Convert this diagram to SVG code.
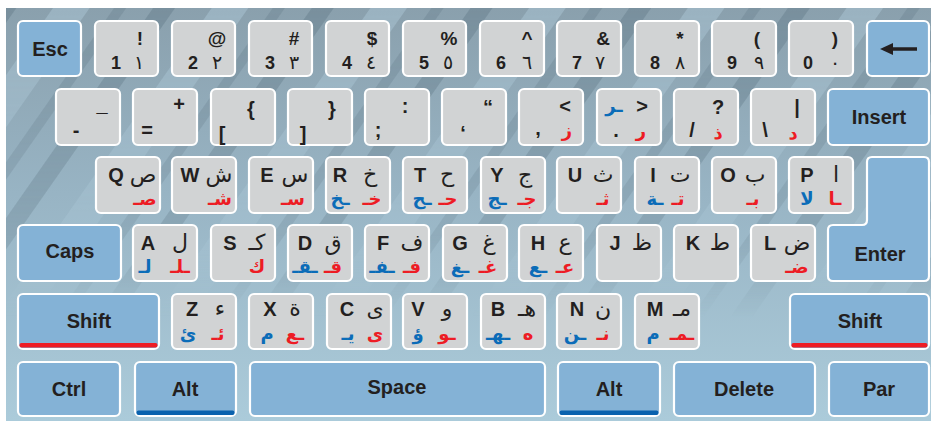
<svg xmlns="http://www.w3.org/2000/svg" width="931" height="421" viewBox="0 0 931 421">
<defs>
<linearGradient id="bg" x1="0" y1="0" x2="0" y2="1">
<stop offset="0" stop-color="#8aa0ad"/>
<stop offset="0.45" stop-color="#98b4c4"/>
<stop offset="1" stop-color="#abcbda"/>
</linearGradient>
<pattern id="st" width="130" height="130" patternUnits="userSpaceOnUse" patternTransform="rotate(35)">
<rect x="0" y="0" width="18" height="130" fill="#687f8d" opacity="0.5"/>
<rect x="48" y="0" width="30" height="130" fill="#b4d0de" opacity="0.4"/>
<rect x="98" y="0" width="10" height="130" fill="#687f8d" opacity="0.35"/>
</pattern>
<linearGradient id="fade" x1="0" y1="0" x2="0" y2="1">
<stop offset="0" stop-color="#fff" stop-opacity="1"/>
<stop offset="0.55" stop-color="#fff" stop-opacity="0.6"/>
<stop offset="0.75" stop-color="#fff" stop-opacity="0"/>
</linearGradient>
<mask id="m"><rect x="6" y="8" width="925" height="413" fill="url(#fade)"/></mask>
<style>
.k{fill:#d1d3d4;stroke:#fff;stroke-width:2.2}
.b{fill:#84b2d6;stroke:#fff;stroke-width:2.2}
text{text-anchor:middle}
.l{font-family:"Liberation Sans",Arial,sans-serif;font-weight:bold;font-size:20px;fill:#231f20}
.n{font-family:"Liberation Sans",Arial,sans-serif;font-weight:bold;font-size:18px;fill:#231f20}
.s{font-family:"Liberation Sans",Arial,sans-serif;font-weight:bold;font-size:19px;fill:#231f20}
.a{font-family:"DejaVu Sans",sans-serif;font-size:22px;fill:#231f20}
.c{font-family:"DejaVu Sans",sans-serif;font-size:18px;font-weight:bold}
.d{font-family:"DejaVu Sans",sans-serif;font-size:19px;fill:#231f20}
.r{fill:#ed1c24}
.u{fill:#0b6cb8}
.w{font-family:"Liberation Sans",Arial,sans-serif;font-weight:bold;font-size:20px;fill:#231f20}
</style>
</defs>
<rect x="6" y="8" width="925" height="413" fill="url(#bg)"/>
<rect x="6" y="8" width="925" height="413" fill="url(#st)" mask="url(#m)"/>

<!-- Row 1 -->
<g id="key-esc"><rect class="b" x="18" y="21" width="63" height="55" rx="5"/><text class="w" x="50" y="56">Esc</text></g>
<g id="key-1"><rect class="k" x="95" y="21" width="63" height="55" rx="5"/><text class="n" x="116" y="69">1</text><text class="d" x="139" y="69">١</text><text class="s" x="140" y="45">!</text></g>
<g id="key-2"><rect class="k" x="172" y="21" width="63" height="55" rx="5"/><text class="n" x="193" y="69">2</text><text class="d" x="217" y="69">٢</text><text class="s" x="217" y="45">@</text></g>
<g id="key-3"><rect class="k" x="249" y="21" width="63" height="55" rx="5"/><text class="n" x="270" y="69">3</text><text class="d" x="294" y="69">٣</text><text class="s" x="294" y="45">#</text></g>
<g id="key-4"><rect class="k" x="326" y="21" width="63" height="55" rx="5"/><text class="n" x="347" y="69">4</text><text class="d" x="371" y="69">٤</text><text class="s" x="372" y="45">$</text></g>
<g id="key-5"><rect class="k" x="403" y="21" width="63" height="55" rx="5"/><text class="n" x="424" y="69">5</text><text class="d" x="448" y="69">٥</text><text class="s" x="449" y="45">%</text></g>
<g id="key-6"><rect class="k" x="480" y="21" width="64" height="55" rx="5"/><text class="n" x="501" y="69">6</text><text class="d" x="527" y="69">٦</text><text class="s" x="527" y="45">^</text></g>
<g id="key-7"><rect class="k" x="557" y="21" width="64" height="55" rx="5"/><text class="n" x="577" y="69">7</text><text class="d" x="600" y="69">٧</text><text class="s" x="603" y="45">&amp;</text></g>
<g id="key-8"><rect class="k" x="635" y="21" width="64" height="55" rx="5"/><text class="n" x="655" y="69">8</text><text class="d" x="680" y="69">٨</text><text class="s" x="680" y="45">*</text></g>
<g id="key-9"><rect class="k" x="712" y="21" width="64" height="55" rx="5"/><text class="n" x="732" y="69">9</text><text class="d" x="759" y="69">٩</text><text class="s" x="757" y="45">(</text></g>
<g id="key-0"><rect class="k" x="789" y="21" width="64" height="55" rx="5"/><text class="n" x="808" y="69">0</text><text class="d" x="835" y="69">٠</text><text class="s" x="835" y="45">)</text></g>
<g id="key-backspace"><rect class="b" x="867" y="21" width="62" height="55" rx="5"/><line x1="889" y1="49" x2="917" y2="49" stroke="#231f20" stroke-width="3.5"/><polygon points="880,49 893,43 893,55" fill="#231f20"/></g>

<!-- Row 2 -->
<g id="key-minus"><rect class="k" x="56" y="89" width="64" height="56" rx="5"/><text class="l" x="76" y="137">-</text><text class="l" x="102" y="111">_</text></g>
<g id="key-equal"><rect class="k" x="133" y="89" width="64" height="56" rx="5"/><text class="l" x="147" y="137">=</text><text class="l" x="179" y="111">+</text></g>
<g id="key-lbracket"><rect class="k" x="211" y="89" width="64" height="56" rx="5"/><text class="l" x="222" y="141">[</text><text class="l" x="251" y="116">{</text></g>
<g id="key-rbracket"><rect class="k" x="288" y="89" width="64" height="56" rx="5"/><text class="l" x="303" y="141">]</text><text class="l" x="332" y="116">}</text></g>
<g id="key-semicolon"><rect class="k" x="365" y="89" width="64" height="56" rx="5"/><text class="l" x="378" y="137">;</text><text class="l" x="405" y="113">:</text></g>
<g id="key-quote"><rect class="k" x="442" y="89" width="64" height="56" rx="5"/><text class="l" x="463" y="140">‘</text><text class="l" x="488" y="114">“</text></g>
<g id="key-comma"><rect class="k" x="519" y="89" width="64" height="56" rx="5"/><text class="l" x="538" y="135">,</text><text class="l" x="565" y="113">&lt;</text><text class="c r" x="567" y="137">ز</text></g>
<g id="key-period"><rect class="k" x="597" y="89" width="64" height="56" rx="5"/><text class="c u" x="614" y="112">ـر</text><text class="l" x="616" y="137">.</text><text class="l" x="642" y="113">&gt;</text><text class="c r" x="641" y="137">ر</text></g>
<g id="key-slash"><rect class="k" x="674" y="89" width="64" height="56" rx="5"/><text class="l" x="692" y="137">/</text><text class="l" x="718" y="114">?</text><text class="c r" x="718" y="139">ذ</text></g>
<g id="key-backslash"><rect class="k" x="751" y="89" width="64" height="56" rx="5"/><text class="l" x="765" y="137">\</text><text class="l" x="797" y="114">|</text><text class="c r" x="793" y="139">د</text></g>
<g id="key-insert"><rect class="b" x="828" y="89" width="101" height="56" rx="5"/><text class="w" x="879" y="124">Insert</text></g>

<!-- Row 3 -->
<g id="key-q"><rect class="k" x="96" y="157" width="64" height="56" rx="5"/><text class="l" x="116" y="182">Q</text><text class="a" x="143" y="182">ص</text><text class="c r" x="145" y="205">صـ</text></g>
<g id="key-w"><rect class="k" x="172" y="157" width="64" height="56" rx="5"/><text class="l" x="190" y="182">W</text><text class="a" x="219" y="182">ش</text><text class="c r" x="220" y="205">شـ</text></g>
<g id="key-e"><rect class="k" x="249" y="157" width="64" height="56" rx="5"/><text class="l" x="267" y="182">E</text><text class="a" x="295" y="182">س</text><text class="c r" x="293" y="205">سـ</text></g>
<g id="key-r"><rect class="k" x="326" y="157" width="64" height="56" rx="5"/><text class="l" x="340" y="182">R</text><text class="a" x="370" y="182">خ</text><text class="c u" x="340" y="205">ـخ</text><text class="c r" x="372" y="205">خـ</text></g>
<g id="key-t"><rect class="k" x="403" y="157" width="64" height="56" rx="5"/><text class="l" x="420" y="182">T</text><text class="a" x="447" y="182">ح</text><text class="c u" x="422" y="205">ـح</text><text class="c r" x="448" y="205">حـ</text></g>
<g id="key-y"><rect class="k" x="481" y="157" width="64" height="56" rx="5"/><text class="l" x="497" y="182">Y</text><text class="a" x="525" y="182">ج</text><text class="c u" x="497" y="205">ـج</text><text class="c r" x="527" y="205">جـ</text></g>
<g id="key-u"><rect class="k" x="557" y="157" width="64" height="56" rx="5"/><text class="l" x="575" y="182">U</text><text class="a" x="603" y="182">ث</text><text class="c r" x="603" y="205">ثـ</text></g>
<g id="key-i"><rect class="k" x="635" y="157" width="64" height="56" rx="5"/><text class="l" x="653" y="182">I</text><text class="a" x="680" y="182">ت</text><text class="c u" x="655" y="205">ـة</text><text class="c r" x="678" y="205">تـ</text></g>
<g id="key-o"><rect class="k" x="712" y="157" width="64" height="56" rx="5"/><text class="l" x="728" y="182">O</text><text class="a" x="755" y="182">ب</text><text class="c r" x="753" y="205">بـ</text></g>
<g id="key-p"><rect class="k" x="789" y="157" width="64" height="56" rx="5"/><text class="l" x="807" y="182">P</text><text class="a" x="836" y="182">ا</text><text class="c u" x="807" y="205">لا</text><text class="c r" x="835" y="205">ـا</text></g>
<g id="key-enter"><path class="b" d="M872,157 H924 Q929,157 929,162 V276 Q929,281 924,281 H833 Q828,281 828,276 V230 Q828,225 833,225 H862 Q867,225 867,220 V162 Q867,157 872,157 Z"/><text class="w" x="880" y="261">Enter</text></g>

<!-- Row 4 -->
<g id="key-caps"><rect class="b" x="18" y="225" width="103" height="56" rx="5"/><text class="w" x="70" y="258">Caps</text></g>
<g id="key-a"><rect class="k" x="133" y="225" width="64" height="56" rx="5"/><text class="l" x="148" y="250">A</text><text class="a" x="180" y="250">ل</text><text class="c u" x="145" y="273">لـ</text><text class="c r" x="180" y="273">ـلـ</text></g>
<g id="key-s"><rect class="k" x="211" y="225" width="64" height="56" rx="5"/><text class="l" x="230" y="250">S</text><text class="a" x="257" y="250">كـ</text><text class="c r" x="257" y="273">ك</text></g>
<g id="key-d"><rect class="k" x="288" y="225" width="64" height="56" rx="5"/><text class="l" x="305" y="250">D</text><text class="a" x="333" y="250">ق</text><text class="c u" x="305" y="273">ـقـ</text><text class="c r" x="333" y="273">قـ</text></g>
<g id="key-f"><rect class="k" x="365" y="225" width="64" height="56" rx="5"/><text class="l" x="383" y="250">F</text><text class="a" x="412" y="250">ف</text><text class="c u" x="382" y="273">ـفـ</text><text class="c r" x="412" y="273">فـ</text></g>
<g id="key-g"><rect class="k" x="443" y="225" width="64" height="56" rx="5"/><text class="l" x="460" y="250">G</text><text class="a" x="489" y="250">غ</text><text class="c u" x="460" y="273">ـغ</text><text class="c r" x="488" y="273">غـ</text></g>
<g id="key-h"><rect class="k" x="519" y="225" width="64" height="56" rx="5"/><text class="l" x="538" y="250">H</text><text class="a" x="565" y="250">ع</text><text class="c u" x="538" y="273">ـع</text><text class="c r" x="565" y="273">عـ</text></g>
<g id="key-j"><rect class="k" x="597" y="225" width="64" height="56" rx="5"/><text class="l" x="615" y="250">J</text><text class="a" x="642" y="250">ظ</text></g>
<g id="key-k"><rect class="k" x="674" y="225" width="64" height="56" rx="5"/><text class="l" x="693" y="250">K</text><text class="a" x="720" y="250">ط</text></g>
<g id="key-l"><rect class="k" x="751" y="225" width="64" height="56" rx="5"/><text class="l" x="770" y="250">L</text><text class="a" x="797" y="250">ض</text><text class="c r" x="797" y="273">ضـ</text></g>

<!-- Row 5 -->
<g id="key-lshift"><rect class="b" x="18" y="294" width="141" height="55" rx="5"/><rect x="19.5" y="343" width="138" height="4.5" rx="2" fill="#ed1c24"/><text class="w" x="89" y="328">Shift</text></g>
<g id="key-z"><rect class="k" x="172" y="294" width="64" height="55" rx="5"/><text class="l" x="192" y="316">Z</text><text class="a" x="220" y="316">ء</text><text class="c u" x="188" y="340">ئ</text><text class="c r" x="218" y="340">ئـ</text></g>
<g id="key-x"><rect class="k" x="249" y="294" width="64" height="55" rx="5"/><text class="l" x="270" y="316">X</text><text class="a" x="295" y="316">ة</text><text class="c u" x="267" y="340">م</text><text class="c r" x="295" y="340">ـع</text></g>
<g id="key-c"><rect class="k" x="327" y="294" width="64" height="55" rx="5"/><text class="l" x="347" y="316">C</text><text class="a" x="375" y="316">ى</text><text class="c u" x="348" y="340">يـ</text><text class="c r" x="375" y="340">ى</text></g>
<g id="key-v"><rect class="k" x="403" y="294" width="64" height="55" rx="5"/><text class="l" x="418" y="316">V</text><text class="a" x="447" y="316">و</text><text class="c u" x="418" y="340">ؤ</text><text class="c r" x="447" y="340">ـو</text></g>
<g id="key-b"><rect class="k" x="481" y="294" width="64" height="55" rx="5"/><text class="l" x="498" y="316">B</text><text class="a" x="527" y="316">هـ</text><text class="c u" x="498" y="340">ـهـ</text><text class="c r" x="528" y="340">ه</text></g>
<g id="key-n"><rect class="k" x="557" y="294" width="64" height="55" rx="5"/><text class="l" x="577" y="316">N</text><text class="a" x="603" y="316">ن</text><text class="c u" x="575" y="340">ـن</text><text class="c r" x="603" y="340">نـ</text></g>
<g id="key-m"><rect class="k" x="635" y="294" width="64" height="55" rx="5"/><text class="l" x="655" y="316">M</text><text class="a" x="682" y="316">مـ</text><text class="c u" x="653" y="340">م</text><text class="c r" x="682" y="340">ـمـ</text></g>
<g id="key-rshift"><rect class="b" x="790" y="294" width="139" height="55" rx="5"/><rect x="791.5" y="343" width="136" height="4.5" rx="2" fill="#ed1c24"/><text class="w" x="860" y="328">Shift</text></g>

<!-- Row 6 -->
<g id="key-ctrl"><rect class="b" x="18" y="362" width="102" height="54" rx="5"/><text class="w" x="69" y="396">Ctrl</text></g>
<g id="key-lalt"><rect class="b" x="135" y="362" width="101" height="54" rx="5"/><rect x="136.5" y="410.5" width="98" height="4.5" rx="2" fill="#0a62ae"/><text class="w" x="185" y="396">Alt</text></g>
<g id="key-space"><rect class="b" x="250" y="362" width="295" height="54" rx="5"/><text class="w" x="397" y="394">Space</text></g>
<g id="key-ralt"><rect class="b" x="558" y="362" width="102" height="54" rx="5"/><rect x="559.5" y="410.5" width="99" height="4.5" rx="2" fill="#0a62ae"/><text class="w" x="609" y="396">Alt</text></g>
<g id="key-delete"><rect class="b" x="674" y="362" width="141" height="54" rx="5"/><text class="w" x="744" y="396">Delete</text></g>
<g id="key-par"><rect class="b" x="829" y="362" width="100" height="54" rx="5"/><text class="w" x="879" y="396">Par</text></g>
</svg>
